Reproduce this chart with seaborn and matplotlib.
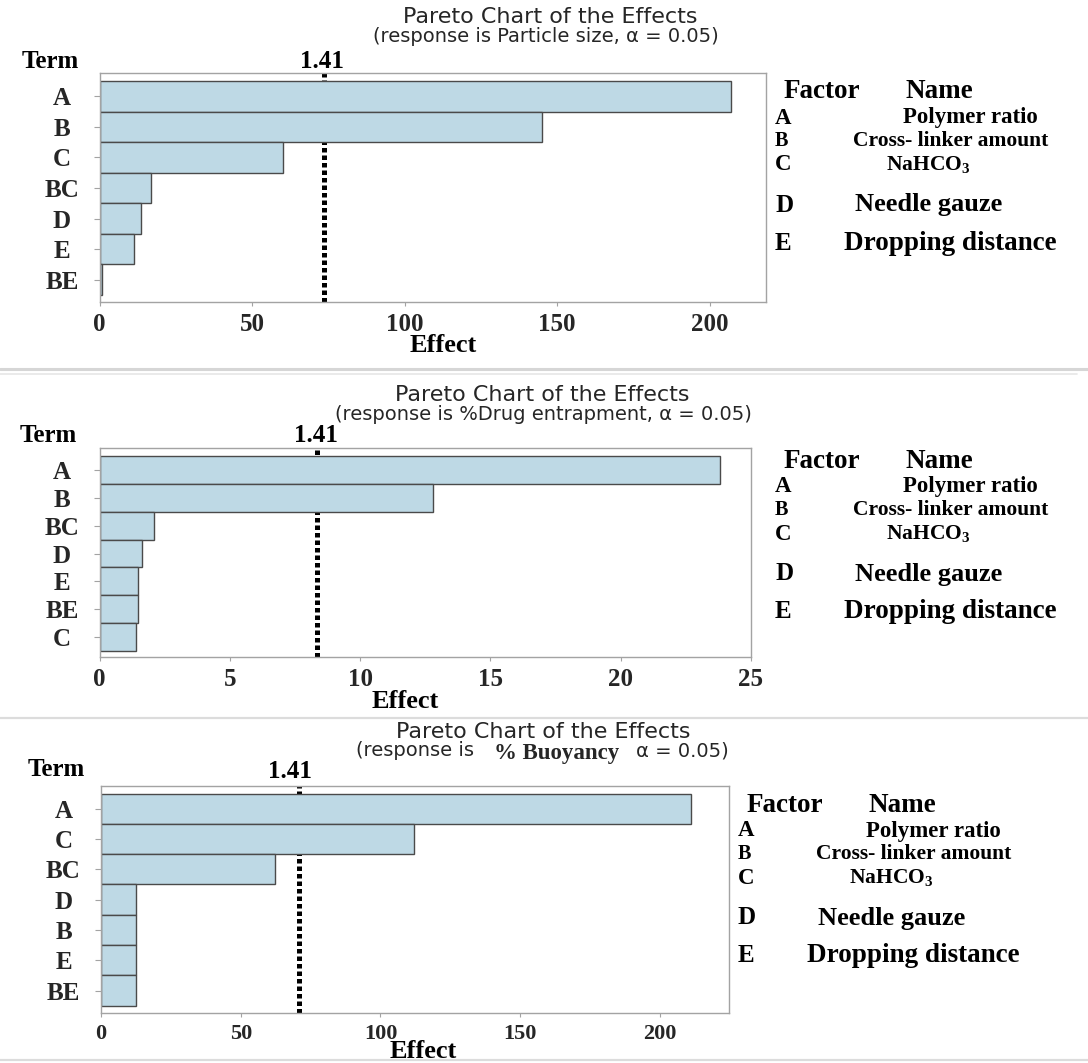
import matplotlib
matplotlib.use('Agg')
import matplotlib.pyplot as plt
from matplotlib.lines import Line2D
import seaborn as sns
import pandas as pd

sns.set_theme(style='white')
plt.rcParams['font.family'] = ['DejaVu Sans']
plt.rcParams['mathtext.fontset'] = 'custom'
plt.rcParams['mathtext.rm'] = 'Liberation Serif:bold'
plt.rcParams['mathtext.bf'] = 'Liberation Serif:bold'
plt.rcParams['mathtext.it'] = 'Liberation Serif:bold:italic'

# ---------------- data ----------------
terms_ps = ['A', 'B', 'C', 'BC', 'D', 'E', 'BE']
effects_ps = [207, 145, 60, 17, 13.5, 11.4, 0.8]
ref_ps = 73.6
ticks_ps = [0, 50, 100, 150, 200]
xmax_ps = 218.5

terms_de = ['A', 'B', 'BC', 'D', 'E', 'BE', 'C']
effects_de = [23.8, 12.8, 2.1, 1.64, 1.48, 1.49, 1.40]
ref_de = 8.35
ticks_de = [0, 5, 10, 15, 20, 25]
xmax_de = 25.0

terms_bu = ['A', 'C', 'BC', 'D', 'B', 'E', 'BE']
effects_bu = [211, 112, 62.3, 12.6, 12.6, 12.6, 12.6]
ref_bu = 70.7
ticks_bu = [0, 50, 100, 150, 200]
xmax_bu = 224.7

title = 'Pareto Chart of the Effects'
sub_ps = '(response is Particle size, \u03b1 = 0.05)'
sub_de = '(response is %Drug entrapment, \u03b1 = 0.05)'
sub_bu = ['(response is', '% Buoyancy', '\u03b1 = 0.05)']
crit_label = '1.41'
factor_codes = ['A', 'B', 'C', 'D', 'E']
factor_names = ['Polymer ratio', 'Cross- linker amount', 'NaHCO$_3$',
                'Needle gauze', 'Dropping distance']

# ---------------- style ----------------
W, H = 1088, 1063
BAR = '#bed9e5'
EDGE = '#4a4a4a'
SPINE = '#a3a3a3'
SERIF = 'Liberation Serif'
TITLE_SIZE = 16
SUB_SIZE = 14

fig = plt.figure(figsize=(W / 100, H / 100), dpi=100)
fig.patch.set_facecolor('white')


def fx(x):
    return x / W


def fy(y):
    return 1 - y / H


def serif_text(x, y, s, size, ha='center'):
    fig.text(fx(x), fy(y), s, fontfamily=SERIF, fontweight='bold',
             fontsize=size, ha=ha, va='center', color='black')


def panel(box, terms, effects, ref, xmax, ticks, pads, xtsize):
    l, r, t, b = box
    ax = fig.add_axes([fx(l), fy(b), (r - l) / W, (b - t) / H])
    df = pd.DataFrame({'Term': terms, 'Effect': effects})
    sns.barplot(data=df, x='Effect', y='Term', orient='h', color=BAR,
                saturation=1, edgecolor=EDGE, linewidth=1.0, width=1.0,
                ax=ax, zorder=2)
    ax.axvline(ref, color='black', lw=3.6, ls=(0, (0.9, 0.6)), zorder=1)
    ax.set_xlim(0, xmax)
    ax.set_ylim(6.5 + pads[1], -0.5 - pads[0])
    ax.set_xlabel('')
    ax.set_ylabel('')
    ax.set_xticks(ticks)
    ax.set_xticklabels([str(v) for v in ticks], fontfamily=SERIF,
                       fontweight='bold', fontsize=xtsize)
    ax.set_yticks(range(len(terms)))
    ax.set_yticklabels(terms, fontfamily=SERIF, fontweight='bold',
                       fontsize=18, ha='center')
    ax.tick_params(axis='y', left=True, length=4, width=0.8, color=SPINE,
                   pad=23, direction='out')
    ax.tick_params(axis='x', bottom=True, length=3, width=0.8, color=SPINE,
                   pad=5, direction='out')
    for sp in ax.spines.values():
        sp.set_visible(True)
        sp.set_color(SPINE)
        sp.set_linewidth(1.0)
    ax.set_facecolor('white')
    return ax


def legend(x0, y0):
    dy = [0, 26, 49, 73, 113, 151]
    serif_text(x0 + 47, y0 + dy[0], 'Factor', 19.5)
    serif_text(x0 + 164, y0 + dy[0], 'Name', 19.5)
    code_sizes = [16.5, 14.5, 16.5, 18, 18]
    name_sizes = [16.5, 15.5, 15.5, 19, 19.5]
    name_cx = [195, 176, 153, 154, 175]
    for i in range(5):
        serif_text(x0, y0 + dy[i + 1], factor_codes[i], code_sizes[i], ha='left')
        serif_text(x0 + name_cx[i], y0 + dy[i + 1], factor_names[i], name_sizes[i])


# ---------------- panel 1 ----------------
panel((99.5, 766, 73, 302), terms_ps, effects_ps, ref_ps, xmax_ps, ticks_ps,
      (0.26, 0.23), 18)
fig.text(fx(550), fy(17), title, fontsize=TITLE_SIZE, ha='center', va='center')
fig.text(fx(546), fy(37), sub_ps, fontsize=SUB_SIZE, ha='center', va='center')
serif_text(50, 62, 'Term', 18)
serif_text(322, 62, crit_label, 18)
serif_text(443, 345, 'Effect', 19)
legend(775, 92)

# ---------------- panel 2 ----------------
panel((99.5, 751, 448, 657), terms_de, effects_de, ref_de, xmax_de, ticks_de,
      (0.29, 0.215), 18)
fig.text(fx(542), fy(395), title, fontsize=TITLE_SIZE, ha='center', va='center')
fig.text(fx(543), fy(414), sub_de, fontsize=SUB_SIZE, ha='center', va='center')
serif_text(48, 435, 'Term', 18)
serif_text(316, 436, crit_label, 18)
serif_text(405, 702, 'Effect', 19)
legend(775, 461)

# ---------------- panel 3 ----------------
panel((101, 729, 786, 1013), terms_bu, effects_bu, ref_bu, xmax_bu, ticks_bu,
      (0.25, 0.24), 16)
fig.text(fx(543), fy(732), title, fontsize=TITLE_SIZE, ha='center', va='center')
fig.text(fx(474), fy(751), sub_bu[0], fontsize=SUB_SIZE, ha='right', va='center')
fig.text(fx(557), fy(753), sub_bu[1], fontsize=16.5, ha='center', va='center',
         fontfamily=SERIF, fontweight='bold')
fig.text(fx(636), fy(751), sub_bu[2], fontsize=SUB_SIZE, ha='left', va='center')
serif_text(56, 770, 'Term', 18)
serif_text(290, 771, crit_label, 18)
serif_text(423, 1052, 'Effect', 19)
legend(738, 805)

# ---------------- separators ----------------
for y, c, lw, x1 in [(369, '#d6d6d6', 2.2, 1.0), (373.5, '#e6e6e6', 1.2, 0.99),
                     (718, '#dcdcdc', 1.6, 1.0), (1060, '#dcdcdc', 1.6, 1.0)]:
    fig.add_artist(Line2D([0, x1], [fy(y), fy(y)], transform=fig.transFigure,
                          color=c, lw=lw))

fig.savefig('out.png', dpi=100, facecolor='white')
